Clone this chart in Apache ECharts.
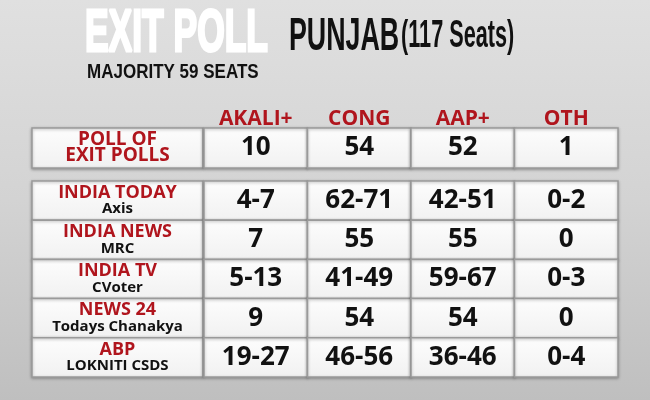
<!DOCTYPE html>
<html>
<head>
<meta charset="utf-8">
<script src="https://cdn.jsdelivr.net/npm/echarts@6/dist/echarts.min.js"></script>
<style>
  html, body { margin: 0; padding: 0; }
  #chart { width: 650px; height: 400px; }
</style>
</head>
<body>
<div id="chart"></div>
<script>
  // table content
  const parties = ['AKALI+', 'CONG', 'AAP+', 'OTH'];
  const pollTitle = 'POLL OF\nEXIT POLLS';
  const pollValues = ['10', '54', '52', '1'];
  const agencies = ['INDIA TODAY', 'INDIA NEWS', 'INDIA TV', 'NEWS 24', 'ABP'];
  const pollsters = ['Axis', 'MRC', 'CVoter', 'Todays Chanakya', 'LOKNITI CSDS'];
  const akali = ['4-7', '7', '5-13', '9', '19-27'];
  const cong = ['62-71', '55', '41-49', '54', '46-56'];
  const aap = ['42-51', '55', '59-67', '54', '36-46'];
  const oth = ['0-2', '0', '0-3', '0', '0-4'];
  const partyValues = [akali, cong, aap, oth];

  const RED = '#b0151d';
  const FONT = '"Open Sans", sans-serif';
  const TITLE_FONT = '"Liberation Sans", Arial, sans-serif';

  const chart = echarts.init(document.getElementById('chart'));

  const cellRect = (api) => {
    const c = api.coord([api.value(0), api.value(1)]);
    const s = api.size([1, 1]);
    return { x: c[0] - s[0] / 2, y: c[1] - s[1] / 2, width: s[0], height: s[1] };
  };

  const cellStyle = () => ({
    fill: new echarts.graphic.LinearGradient(0, 0, 0, 1, [
      { offset: 0, color: '#fdfdfd' },
      { offset: 1, color: '#f1f1f1' },
    ]),
    stroke: '#9a9a9a',
    lineWidth: 1.5,
    shadowBlur: 3,
    shadowOffsetY: 1,
    shadowColor: 'rgba(0,0,0,0.3)',
  });

  const cell = (api, textStyle) => {
    const r = cellRect(api);
    return {
      type: 'group',
      children: [
        { type: 'rect', shape: r, style: cellStyle() },
        {
          type: 'text',
          x: r.x + r.width / 2,
          y: r.y + r.height / 2,
          style: Object.assign({ align: 'center', verticalAlign: 'middle' }, textStyle),
        },
      ],
    };
  };

  const valueText = (text) => ({
    text: text,
    fontFamily: FONT,
    fontWeight: 'bold',
    fontSize: 26,
    fill: '#111',
  });

  const hiddenCat = (data, gridIndex, extra) =>
    Object.assign({ type: 'category', data: data, gridIndex: gridIndex, show: false }, extra || {});

  const option = {
    backgroundColor: new echarts.graphic.LinearGradient(0, 0, 0, 1, [
      { offset: 0, color: '#e0e0e0' },
      { offset: 0.5, color: '#d3d3d3' },
      { offset: 1, color: '#bfbfbf' },
    ]),
    animation: false,
    grid: [
      { left: 32, top: 128, width: 171, height: 40 },
      { left: 204, top: 128, width: 414, height: 40 },
      { left: 32, top: 181, width: 171, height: 196 },
      { left: 204, top: 181, width: 414, height: 196 },
    ],
    xAxis: [
      hiddenCat(['src'], 0),
      {
        type: 'category',
        data: parties,
        gridIndex: 1,
        position: 'top',
        axisLine: { show: false },
        axisTick: { show: false },
        axisLabel: {
          color: RED,
          fontFamily: FONT,
          fontWeight: 'bold',
          fontSize: 21,
          margin: -2,
        },
      },
      hiddenCat(['src'], 2),
      hiddenCat(parties, 3),
    ],
    yAxis: [
      hiddenCat(['poll'], 0),
      hiddenCat(['poll'], 1),
      hiddenCat(agencies, 2, { inverse: true }),
      hiddenCat(agencies, 3, { inverse: true }),
    ],
    graphic: [
      {
        type: 'text',
        x: 85,
        y: 34,
        scaleX: 0.59,
        style: {
          text: 'EXIT POLL',
          fontFamily: TITLE_FONT,
          fontWeight: 'bold',
          fontSize: 60,
          fill: '#ffffff',
          stroke: '#ffffff',
          lineWidth: 3,
          verticalAlign: 'middle',
          shadowBlur: 8,
          shadowOffsetX: 3,
          shadowOffsetY: 3,
          shadowColor: 'rgba(0,0,0,0.5)',
        },
      },
      {
        type: 'text',
        x: 289,
        y: 37,
        scaleX: 0.57,
        style: {
          text: '{a|PUNJAB} {b|(117 Seats)}',
          verticalAlign: 'middle',
          rich: {
            a: { fontFamily: TITLE_FONT, fontWeight: 'bold', fontSize: 47, fill: '#111' },
            b: { fontFamily: TITLE_FONT, fontWeight: 'bold', fontSize: 38, fill: '#111' },
          },
        },
      },
      {
        type: 'text',
        x: 87,
        y: 72,
        scaleX: 0.81,
        style: {
          text: 'MAJORITY 59 SEATS',
          fontFamily: TITLE_FONT,
          fontWeight: 'bold',
          fontSize: 21,
          fill: '#111',
          verticalAlign: 'middle',
        },
      },
    ],
    series: [
      {
        type: 'custom',
        xAxisIndex: 0,
        yAxisIndex: 0,
        data: [[0, 0]],
        renderItem: (params, api) =>
          cell(api, {
            text: pollTitle,
            fontFamily: FONT,
            fontWeight: 'bold',
            fontSize: 19,
            lineHeight: 16,
            fill: RED,
          }),
      },
      {
        type: 'custom',
        xAxisIndex: 1,
        yAxisIndex: 1,
        data: pollValues.map((v, j) => [j, 0]),
        renderItem: (params, api) => cell(api, valueText(pollValues[params.dataIndex])),
      },
      {
        type: 'custom',
        xAxisIndex: 2,
        yAxisIndex: 2,
        data: agencies.map((a, i) => [0, i]),
        renderItem: (params, api) =>
          cell(api, {
            text: '{a|' + agencies[params.dataIndex] + '}\n{b|' + pollsters[params.dataIndex] + '}',
            rich: {
              a: { fontFamily: FONT, fontWeight: 'bold', fontSize: 18, lineHeight: 17, fill: RED },
              b: { fontFamily: FONT, fontWeight: 'bold', fontSize: 15, lineHeight: 16, fill: '#111' },
            },
          }),
      },
      {
        type: 'custom',
        xAxisIndex: 3,
        yAxisIndex: 3,
        data: partyValues.flatMap((col, j) => col.map((v, i) => [j, i])),
        renderItem: (params, api) =>
          cell(api, valueText(partyValues[api.value(0)][api.value(1)])),
      },
    ],
  };

  chart.setOption(option);
  window.addEventListener('resize', () => chart.resize());
</script>
</body>
</html>
